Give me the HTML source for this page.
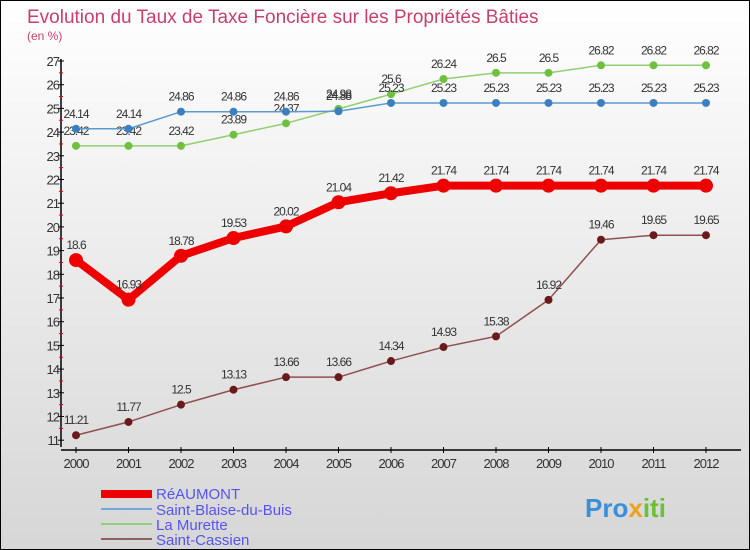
<!DOCTYPE html>
<html><head><meta charset="utf-8"><style>
body{margin:0}
#c{width:748px;height:548px;border:1px solid #000;background:linear-gradient(#fff,#d6d6d6);position:relative;font-family:"Liberation Sans",sans-serif;overflow:hidden}
svg text{font-family:"Liberation Sans",sans-serif}
</style></head><body>
<div id="c">
<svg id="s" width="748" height="548">
<text x="26" y="22" font-size="19" fill="#c8406a">Evolution du Taux de Taxe Foncière sur les Propriétés Bâties</text>
<text x="26" y="39" font-size="12" fill="#c8406a">(en %)</text>
<g id="axes"></g><g id="series"></g>
<g>
<rect x="100" y="489" width="51" height="8" fill="#e00"/>
<text x="155" y="498" font-size="15" fill="#5555ee">RéAUMONT</text>
<rect x="100" y="507" width="51" height="2" fill="#6fa8dc"/>
<text x="155" y="514" font-size="15" fill="#5555ee">Saint-Blaise-du-Buis</text>
<rect x="100" y="522" width="51" height="2" fill="#90d070"/>
<text x="155" y="529" font-size="15" fill="#5555ee">La Murette</text>
<rect x="100" y="537" width="51" height="2" fill="#906060"/>
<text x="155" y="544" font-size="15" fill="#5555ee">Saint-Cassien</text>
</g>
<text x="584" y="516" font-size="26" font-weight="bold"><tspan fill="#3a8fd8">Pro</tspan><tspan fill="#f0a020">x</tspan><tspan fill="#6cbf3a">iti</tspan></text>
</svg></div>
<script>
const years=[2000,2001,2002,2003,2004,2005,2006,2007,2008,2009,2010,2011,2012];
const yTicks=[11,12,13,14,15,16,17,18,19,20,21,22,23,24,25,26,27];
const reaumont=[18.6,16.93,18.78,19.53,20.02,21.04,21.42,21.74,21.74,21.74,21.74,21.74,21.74];
const blaise=[24.14,24.14,24.86,24.86,24.86,24.88,25.23,25.23,25.23,25.23,25.23,25.23,25.23];
const murette=[23.42,23.42,23.42,23.89,24.37,24.98,25.6,26.24,26.5,26.5,26.82,26.82,26.82];
const cassien=[11.21,11.77,12.5,13.13,13.66,13.66,14.34,14.93,15.38,16.92,19.46,19.65,19.65];
const NS="http://www.w3.org/2000/svg";
const xs=i=>75+i*52.5, ys=v=>60+(27-v)*23.7;
function el(t,a,p){const e=document.createElementNS(NS,t);for(const k in a)e.setAttribute(k,a[k]);p.appendChild(e);return e;}
const ax=document.getElementById('axes'),sg=document.getElementById('series');
let l=el('line',{x1:60,y1:58,x2:60,y2:446,stroke:'#000','stroke-width':1.5},ax);

l=el('line',{x1:60,y1:449,x2:740,y2:449,stroke:'#000','stroke-width':1.5},ax);

yTicks.forEach((v,i)=>{const y=ys(v);
 el('line',{x1:57,y1:y,x2:63,y2:y,stroke:'#000'},ax);
 if(i<yTicks.length-1)el('line',{x1:58,y1:ys(v+0.5),x2:62,y2:ys(v+0.5),stroke:'#e00'},ax);
 const t=el('text',{x:58,y:y+5,'font-size':13,'text-anchor':'end',fill:'#333','letter-spacing':'-1'},ax);t.textContent=v;
 });
years.forEach((yr,i)=>{const x=xs(i);
 el('line',{x1:x,y1:446,x2:x,y2:452,stroke:'#000'},ax);
 const t=el('text',{x:x,y:467,'font-size':13,'text-anchor':'middle',fill:'#333','letter-spacing':'-1'},ax);t.textContent=yr;
 });
function series(d,col,w,r,dot,name){
 const g=el('g',{},sg);
 el('polyline',{points:d.map((v,i)=>xs(i)+','+ys(v)).join(' '),fill:'none',stroke:col,'stroke-width':w,'stroke-linejoin':'round'},g);
 d.forEach((v,i)=>{const c=el('circle',{cx:xs(i),cy:ys(v),r:r,fill:dot},g);
  
  const t=el('text',{x:xs(i),y:ys(v)-11,'font-size':12,'text-anchor':'middle',fill:'#333','letter-spacing':'-1'},g);t.textContent=v;
  });
}
series(cassien,'#905050',1.5,4,'#6a1a1a','saint-cassien');
series(murette,'#90d070',1.5,4,'#70c040','la-murette');
series(blaise,'#5a9ad0',1.5,4,'#3a80c0','saint-blaise');
series(reaumont,'#ee0000',8,7,'#ee0000','reaumont');
</script>
</body></html>
